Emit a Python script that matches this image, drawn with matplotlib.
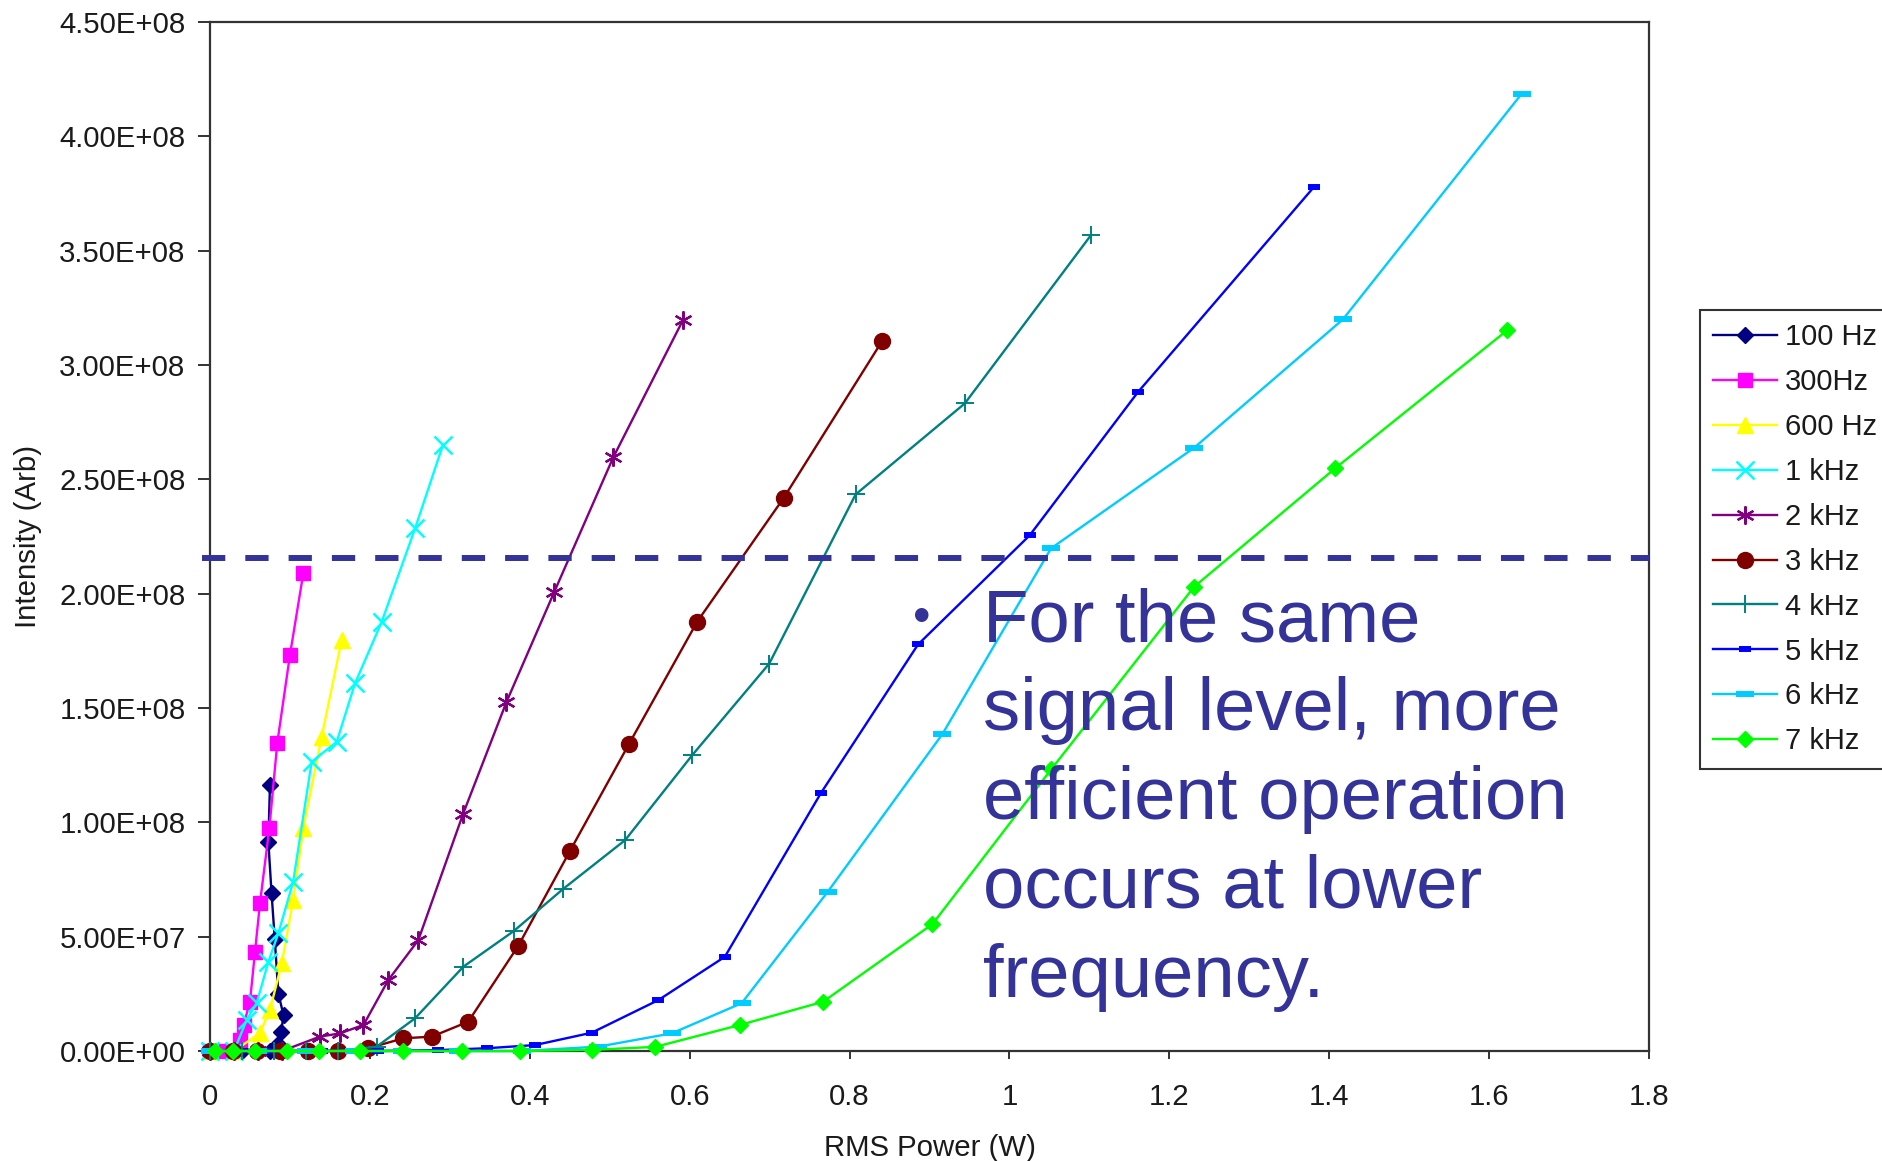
import matplotlib
matplotlib.use("Agg")
import matplotlib.pyplot as plt
from matplotlib.ticker import FixedLocator, FuncFormatter

plt.rcParams['font.family'] = ['Liberation Sans', 'DejaVu Sans']

W, H = 1882, 1161
DPI = 100

# ---- data: RMS power (W) vs intensity (units of 1e8, arbitrary) ----
series_labels = ["100 Hz", "300Hz", "600 Hz", "1 kHz", "2 kHz",
                 "3 kHz", "4 kHz", "5 kHz", "6 kHz", "7 kHz"]

x_100hz = [0.0, 0.02, 0.04, 0.06, 0.075, 0.085, 0.089, 0.092, 0.0855, 0.081, 0.077, 0.073, 0.075]
y_100hz = [0.0, 0.0, 0.0, 0.0, 0.0, 0.03, 0.084, 0.157, 0.25, 0.49, 0.69, 0.915, 1.163]

x_300hz = [0.0, 0.02, 0.038, 0.042, 0.05, 0.0563, 0.0625, 0.0742, 0.0842, 0.100, 0.1167]
y_300hz = [0.0, 0.0, 0.048, 0.114, 0.216, 0.434, 0.646, 0.974, 1.348, 1.732, 2.089]

x_600hz = [0.0, 0.03, 0.0625, 0.075, 0.0897, 0.104, 0.1167, 0.1397, 0.1647]
y_600hz = [0.0, 0.0, 0.078, 0.179, 0.383, 0.66, 0.974, 1.374, 1.797]

x_1khz = [0.0, 0.03, 0.0459, 0.0584, 0.073, 0.0855, 0.104, 0.1272, 0.1585, 0.1814, 0.2148, 0.2565, 0.2912]
y_1khz = [0.0, 0.0, 0.136, 0.209, 0.39, 0.515, 0.74, 1.265, 1.352, 1.608, 1.877, 2.285, 2.649]

x_2khz = [0.0, 0.03, 0.06, 0.09, 0.1376, 0.1626, 0.192, 0.223, 0.2606, 0.3167, 0.3708, 0.4308, 0.5044, 0.5914]
y_2khz = [0.0, 0.0, 0.0, 0.0, 0.063, 0.077, 0.114, 0.31, 0.485, 1.038, 1.526, 2.009, 2.596, 3.195]

x_3khz = [0.0, 0.029, 0.059, 0.088, 0.123, 0.1605, 0.198, 0.2418, 0.2773, 0.323, 0.3858, 0.4503, 0.524, 0.6095, 0.7175, 0.8408]
y_3khz = [0.0, 0.0, 0.0, 0.0, 0.0, 0.0, 0.012, 0.0555, 0.0627, 0.128, 0.461, 0.875, 1.342, 1.878, 2.418, 3.105]

x_4khz = [0.0, 0.04, 0.08, 0.12, 0.16, 0.2085, 0.2565, 0.317, 0.3798, 0.4413, 0.5194, 0.6035, 0.6995, 0.8076, 0.9442, 1.1018]
y_4khz = [0.0, 0.0, 0.0, 0.0, 0.0, 0.019, 0.143, 0.369, 0.524, 0.7075, 0.9226, 1.295, 1.694, 2.434, 2.832, 3.567]

x_5khz = [0.0, 0.07, 0.14, 0.21, 0.2856, 0.346, 0.4066, 0.4775, 0.561, 0.644, 0.764, 0.8857, 1.0253, 1.1604, 1.381]
y_5khz = [0.0, 0.0, 0.0, 0.0, 0.004, 0.012, 0.026, 0.08, 0.223, 0.412, 1.127, 1.778, 2.255, 2.88, 3.779]

x_6khz = [0.0, 0.06, 0.12, 0.18, 0.24, 0.31, 0.39, 0.4858, 0.5775, 0.665, 0.773, 0.916, 1.052, 1.231, 1.417, 1.6407]
y_6khz = [0.0, 0.0, 0.0, 0.0, 0.0, 0.0, 0.0, 0.019, 0.077, 0.209, 0.6975, 1.385, 2.198, 2.638, 3.199, 4.186]

x_7khz = [0.006, 0.029, 0.056, 0.096, 0.136, 0.188, 0.241, 0.315, 0.388, 0.4775, 0.557, 0.663, 0.767, 0.9037, 1.0523, 1.231, 1.4074, 1.623]
y_7khz = [0.0, 0.0, 0.0, 0.0, 0.0, 0.0, 0.0, 0.0, 0.0, 0.005, 0.018, 0.114, 0.2156, 0.555, 1.232, 2.03, 2.548, 3.153]

reference_level = 2.155  # horizontal guide (1e8)

x_ticks = [0, 0.2, 0.4, 0.6, 0.8, 1.0, 1.2, 1.4, 1.6, 1.8]
y_ticks = [0, 0.5e8, 1.0e8, 1.5e8, 2.0e8, 2.5e8, 3.0e8, 3.5e8, 4.0e8, 4.5e8]

note_lines = ["For the same", "signal level, more", "efficient operation",
              "occurs at lower", "frequency."]

# ---- styles ----
styles = [
    dict(color="#000080", marker="D", ms=8.0, mec="#000080"),
    dict(color="#FF00FF", marker="s", ms=10.5, mec="#FF00FF"),
    dict(color="#FFFF00", marker="^", ms=12, mec="#FFFF00"),
    dict(color="#00FFFF", marker="x", ms=12.5, mew=1.8),
    dict(color="#800080", marker=(6, 2, 0), ms=13, mew=1.6),
    dict(color="#800000", marker="o", ms=11.5, mec="#800000"),
    dict(color="#008080", marker="+", ms=13, mew=1.4),
    dict(color="#0000FF", marker="_", ms=8.0, mew=4.3),
    dict(color="#00CCFF", marker="_", ms=13.0, mew=4.3),
    dict(color="#00FF00", marker="D", ms=8.5, mec="#00FF00"),
]

xs = [x_100hz, x_300hz, x_600hz, x_1khz, x_2khz, x_3khz, x_4khz, x_5khz, x_6khz, x_7khz]
ys = [y_100hz, y_300hz, y_600hz, y_1khz, y_2khz, y_3khz, y_4khz, y_5khz, y_6khz, y_7khz]

fig = plt.figure(figsize=(W / DPI, H / DPI), dpi=DPI)
fig.patch.set_facecolor("white")

def fx(px):
    return px / W

def fy(py):
    return 1 - py / H

ax_left, ax_right, ax_top, ax_bottom = 210, 1649, 22, 1051
ax = fig.add_axes([fx(ax_left), fy(ax_bottom), (ax_right - ax_left) / W, (ax_bottom - ax_top) / H])

handles = []
for xv, yv, lab, st in zip(xs, ys, series_labels, styles):
    st = dict(st)
    c = st.pop("color")
    h, = ax.plot(xv, [v * 1e8 for v in yv], color=c, lw=1.7, mfc=c,
                 label=lab, clip_on=False, zorder=3, **st)
    handles.append(h)

ax.set_xlim(0, 1.8)
ax.set_ylim(0, 4.5e8)

# dashed guide line, starting just left of the y axis
ax.axhline(reference_level * 1e8, xmin=-0.0058, xmax=1.0, color="#333399", lw=4.3,
           linestyle=(0, (3.9, 3.35)), clip_on=False, zorder=4)

ax.xaxis.set_major_locator(FixedLocator(x_ticks))
ax.yaxis.set_major_locator(FixedLocator(y_ticks))
ax.xaxis.set_major_formatter(FuncFormatter(lambda v, p: f"{round(v, 1):g}"))
ax.yaxis.set_major_formatter(FuncFormatter(lambda v, p: f"{v:.2E}"))

for sp in ax.spines.values():
    sp.set_color("#333333")
    sp.set_linewidth(1.6)

ax.tick_params(axis="y", direction="out", length=8.6, width=1.4, color="#333333",
               pad=9, labelsize=21.2, labelcolor="#1a1a1a")
ax.tick_params(axis="x", direction="out", length=5.8, width=1.4, color="#333333",
               pad=17.5, labelsize=21.2, labelcolor="#1a1a1a")

ax.set_xlabel("RMS Power (W)", fontsize=21.2, color="#1a1a1a")
ax.set_ylabel("Intensity (Arb)", fontsize=21.2, color="#1a1a1a")
ax.xaxis.set_label_coords(0.5, -0.0805)
ax.yaxis.set_label_coords(-0.117, 0.5)

leg = fig.legend(handles=handles, labels=series_labels, loc="upper left",
                 bbox_to_anchor=(fx(1700), fy(310)), bbox_transform=fig.transFigure,
                 fontsize=21, frameon=True, fancybox=False, framealpha=1,
                 edgecolor="#333333", borderpad=0.45, labelspacing=0.58,
                 handlelength=2.2, handletextpad=0.26, borderaxespad=0,
                 numpoints=1)
leg.get_frame().set_linewidth(1.5)
for t in leg.get_texts():
    t.set_color("#1a1a1a")

# annotation text block
note_color = "#333399"
fig.text(fx(922), fy(632), "\u2022", fontsize=36, color=note_color,
         ha="center", va="baseline")
baseline0 = 641
for i, line in enumerate(note_lines):
    fig.text(fx(983), fy(baseline0 + 89 * i), line, fontsize=53.5, color=note_color,
             ha="left", va="baseline")

fig.savefig("out.png", dpi=DPI)
